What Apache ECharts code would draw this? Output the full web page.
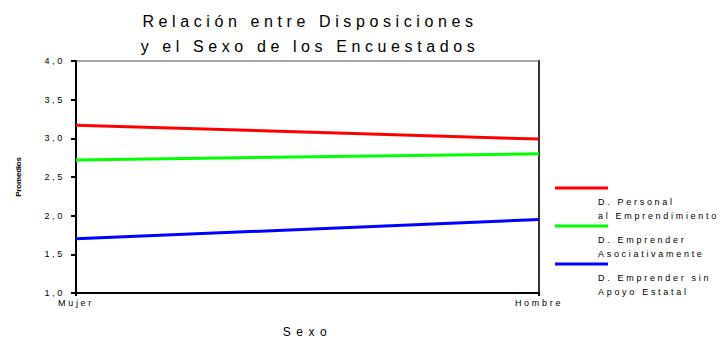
<!DOCTYPE html>
<html>
<head>
<meta charset="utf-8">
<script src="https://cdn.jsdelivr.net/npm/echarts@6/dist/echarts.min.js"></script>
<style>
  html, body { margin: 0; padding: 0; background: #fff; }
  #chart { width: 728px; height: 343px; }
  /* wide tracking for the chart text, tighter for the rotated axis name */
  #chart text { letter-spacing: 2.7px; }
  #chart text[style*="16px"] { letter-spacing: 4.6px; }
  #chart text[style*="12px"] { letter-spacing: 5.5px; }
  #chart text[style*="8px"] { letter-spacing: -0.2px; }
</style>
</head>
<body>
<div id="chart"></div>
<script>
// Categories and mean scores per disposition
const categories = ['Mujer', 'Hombre'];
const seriesNames = ['D. Personal al Emprendimiento', 'D. Emprender Asociativamente', 'D. Emprender sin Apoyo Estatal'];
const legendLines = [
  ['D. Personal', 'al Emprendimiento'],
  ['D. Emprender', 'Asociativamente'],
  ['D. Emprender sin', 'Apoyo Estatal']
];
const personal = [3.17, 2.99];
const asociativo = [2.72, 2.80];
const sinApoyo = [1.70, 1.95];
const colors = ['#ff0000', '#00ff00', '#0000ff'];
const yTicks = [1.0, 1.5, 2.0, 2.5, 3.0, 3.5, 4.0];

const values = [personal, asociativo, sinApoyo];
const font = 'Liberation Sans, Arial, sans-serif';

const chart = echarts.init(document.getElementById('chart'), null, { renderer: 'svg' });

// Legend: colored line sample with a two-line label below it
const legendGraphics = [];
legendLines.forEach((lines, i) => {
  const y0 = 188 + i * 38;
  legendGraphics.push({
    type: 'line',
    shape: { x1: 555, y1: y0, x2: 608, y2: y0 },
    style: { stroke: colors[i], lineWidth: 3 }
  });
  lines.forEach((t, j) => {
    legendGraphics.push({
      type: 'text',
      x: 598, y: y0 + 14 + j * 14,
      style: { text: t, font: '9px ' + font, fill: '#000', verticalAlign: 'middle', textAlign: 'left' }
    });
  });
});

chart.setOption({
  animation: false,
  title: {
    text: 'Relación entre Disposiciones\ny el Sexo de los Encuestados',
    left: 305,
    top: 4,
    textAlign: 'center',
    textStyle: { fontFamily: font, fontSize: 16, fontWeight: 'normal', color: '#000', lineHeight: 25 }
  },
  grid: {
    left: 76, right: 189, top: 61, bottom: 48,
    show: true, borderColor: '#8a8a8a', borderWidth: 1.5, backgroundColor: 'transparent'
  },
  xAxis: {
    type: 'category',
    data: categories,
    boundaryGap: false,
    name: 'Sexo',
    nameLocation: 'middle',
    nameGap: 33,
    nameTextStyle: { fontFamily: font, fontSize: 12, color: '#000', verticalAlign: 'top' },
    axisLine: { lineStyle: { color: '#000', width: 2 } },
    axisTick: { show: true, length: 3, lineStyle: { color: '#000', width: 2 } },
    axisLabel: { fontFamily: font, fontSize: 9, color: '#000', margin: 5 },
    splitLine: { show: false }
  },
  yAxis: [{
    type: 'value',
    min: 1, max: 4, interval: 0.5,
    name: 'Promedios',
    nameLocation: 'middle',
    nameGap: 54,
    nameRotate: 90,
    nameTextStyle: { fontFamily: font, fontSize: 8, fontWeight: 'bold', color: '#000' },
    axisLine: { show: true, lineStyle: { color: '#000', width: 2 } },
    axisTick: { show: true, length: 5, lineStyle: { color: '#000', width: 2 } },
    axisLabel: {
      fontFamily: font, fontSize: 9, color: '#000', margin: 11,
      formatter: v => yTicks.includes(v) ? v.toFixed(1).replace('.', ',') : ''
    },
    splitLine: { show: false }
  }, {
    type: 'value',
    min: 1, max: 4, interval: 0.5,
    position: 'right',
    axisLine: { show: true, lineStyle: { color: '#333', width: 2 } },
    axisTick: { show: false },
    axisLabel: { show: false },
    splitLine: { show: false }
  }],
  series: values.map((d, i) => ({
    name: seriesNames[i],
    type: 'line',
    data: d,
    symbol: 'none',
    lineStyle: { color: colors[i], width: 3 },
    itemStyle: { color: colors[i] }
  })),
  graphic: legendGraphics
});
</script>
</body>
</html>
